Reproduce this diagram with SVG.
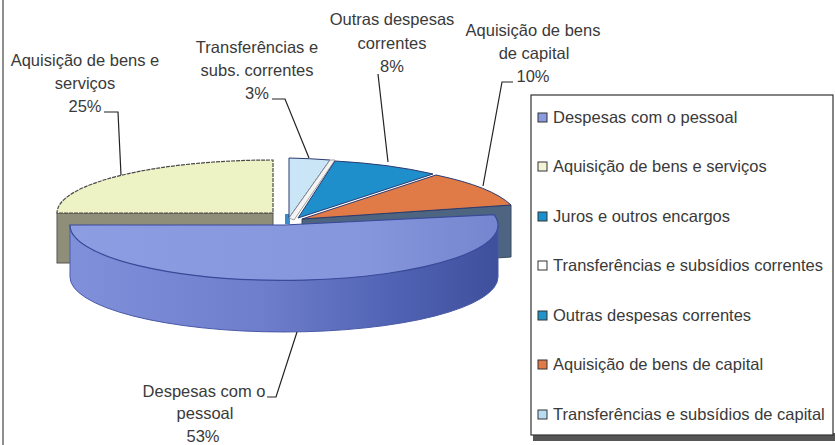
<svg xmlns="http://www.w3.org/2000/svg" width="835" height="445" viewBox="0 0 835 445">
<defs>
<linearGradient id="gWall" x1="0" y1="0" x2="1" y2="0">
<stop offset="0" stop-color="#8190da"/>
<stop offset="0.45" stop-color="#6e7ecc"/>
<stop offset="0.75" stop-color="#5163b4"/>
<stop offset="1" stop-color="#3e4f9c"/>
</linearGradient>
<linearGradient id="gTop" x1="0" y1="0" x2="1" y2="0">
<stop offset="0" stop-color="#8d9de2"/>
<stop offset="0.7" stop-color="#8696dc"/>
<stop offset="1" stop-color="#7585cf"/>
</linearGradient>
<style>
text{font-family:"Liberation Sans",Arial,sans-serif;font-size:16.5px;fill:#3a3a3a}
.lbl{text-anchor:middle}
.edge{stroke:#2c3a70;stroke-width:1;stroke-linejoin:round}
.lead{fill:none;stroke:#222;stroke-width:1.2}
.sq{stroke:#333;stroke-width:1}
</style>
</defs>
<rect width="835" height="445" fill="#ffffff"/>
<line x1="3" y1="0" x2="3" y2="445" stroke="#6a6a6a" stroke-width="1.5"/>

<g id="slice-aquisicao-servicos">
<rect x="57" y="213" width="216" height="50" fill="#8e8e79" stroke="#555" stroke-width="1"/>
<path d="M 273,213 L 57,213 A 216,53 0 0 1 273,160 Z" fill="#eef3c6" stroke="#4a4a4a" stroke-width="1.2" stroke-dasharray="4,1"/>
</g>

<g id="slice-transferencias-capital">
<rect x="285" y="214" width="5" height="10" fill="#3a8ccb"/>
<path d="M 289,218 L 289,158 A 210,57 0 0 1 330,160 Z" fill="#c9e5f6" stroke="#2c3a70" stroke-width="1"/>
</g>

<g id="slice-transferencias-correntes">
<path d="M 330,160 L 335,160 L 294,220 L 289,218 Z" fill="#f4f4f4" stroke="#8a8a8a" stroke-width="0.8"/>
</g>

<g id="slice-outras-despesas">
<path d="M 298,218 L 335,161 A 215,58 0 0 1 433,174 Z" fill="#1f8fcc" class="edge"/>
</g>

<g id="slice-aquisicao-capital">
<path d="M 302,219 L 511,205 L 511,257 L 302,271 Z" fill="#4d6580" stroke="#3a4a60" stroke-width="1"/>
<path d="M 302,219 L 436,175 A 215,58 0 0 1 511,205 Z" fill="#e07b48" class="edge"/>
</g>

<g id="slice-despesas-pessoal">
<path d="M 70,225 A 214,55 0 0 0 498,225 L 498,277 A 214,55 0 0 1 70,277 Z" fill="url(#gWall)" stroke="#4a5aa8" stroke-width="1"/>
<path d="M 284,225 L 70,225 A 214,55 0 1 0 494,214.7 Z" fill="url(#gTop)" stroke="#3a4a9a" stroke-width="1.2"/>
</g>

<g id="connectors">
<polyline class="lead" points="104,112 118,112 121,175"/>
<polyline class="lead" points="272,99 285,99 309,158"/>
<polyline class="lead" points="378,74 388,162"/>
<polyline class="lead" points="513,82 502,82 483,186"/>
<polyline class="lead" points="267,397 276,397 297,332"/>
</g>

<g id="label-aquisicao-servicos">
<text class="lbl" x="85" y="66">Aquisição de bens e</text>
<text class="lbl" x="85" y="89">serviços</text>
<text class="lbl" x="85" y="112">25%</text>
</g>
<g id="label-transferencias">
<text class="lbl" x="257" y="53">Transferências e</text>
<text class="lbl" x="257" y="76">subs. correntes</text>
<text class="lbl" x="257" y="99">3%</text>
</g>
<g id="label-outras">
<text class="lbl" x="392" y="25">Outras despesas</text>
<text class="lbl" x="392" y="49">correntes</text>
<text class="lbl" x="392" y="72">8%</text>
</g>
<g id="label-capital">
<text class="lbl" x="533" y="36">Aquisição de bens</text>
<text class="lbl" x="534" y="59">de capital</text>
<text class="lbl" x="533" y="82">10%</text>
</g>
<g id="label-pessoal">
<text class="lbl" x="204" y="397">Despesas com o</text>
<text class="lbl" x="205" y="419">pessoal</text>
<text class="lbl" x="203" y="442">53%</text>
</g>

<g id="legend">
<rect x="533" y="433" width="302" height="8" fill="#555"/>
<rect x="531" y="95" width="302" height="340" fill="#fff" stroke="#333" stroke-width="1.2"/>
<rect class="sq" x="538" y="113" width="9" height="9" fill="#8b9be0"/>
<text x="553" y="123">Despesas com o pessoal</text>
<rect class="sq" x="538" y="162" width="9" height="9" fill="#f3f4d6"/>
<text x="553" y="172">Aquisição de bens e serviços</text>
<rect class="sq" x="538" y="212" width="9" height="9" fill="#1a90d0"/>
<text x="553" y="222">Juros e outros encargos</text>
<rect class="sq" x="538" y="261" width="9" height="9" fill="#ffffff"/>
<text x="553" y="271">Transferências e subsídios correntes</text>
<rect class="sq" x="538" y="311" width="9" height="9" fill="#2093c8"/>
<text x="553" y="321">Outras despesas correntes</text>
<rect class="sq" x="538" y="360" width="9" height="9" fill="#e07b48"/>
<text x="553" y="370">Aquisição de bens de capital</text>
<rect class="sq" x="538" y="410" width="9" height="9" fill="#b9dcf3"/>
<text x="553" y="420">Transferências e subsídios de capital</text>
</g>
</svg>
